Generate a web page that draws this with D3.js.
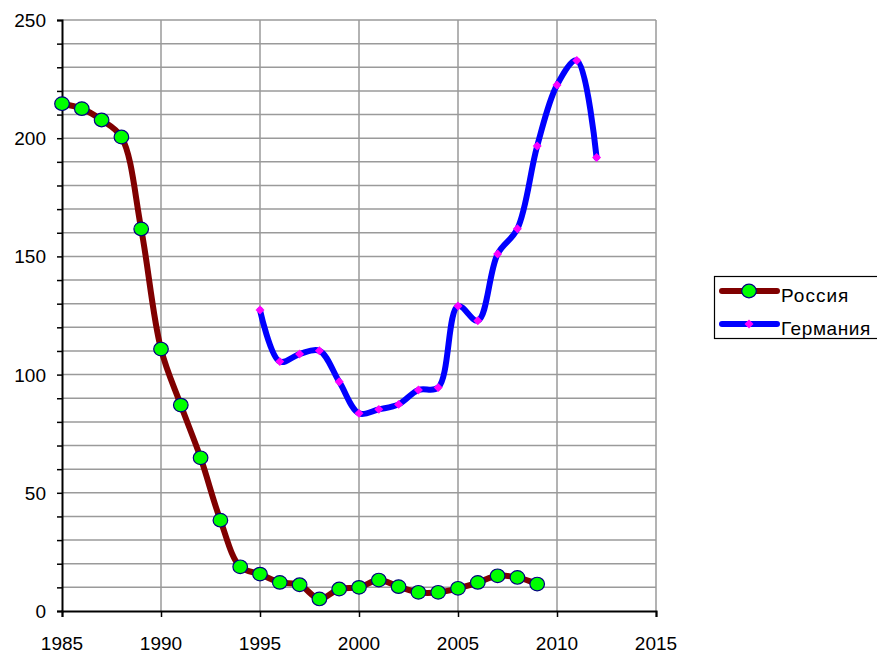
<!DOCTYPE html>
<html><head><meta charset="utf-8">
<script src="https://cdn.jsdelivr.net/npm/d3@7"></script>
<style>body{margin:0;background:#fff}svg{display:block}text{font-family:"Liberation Sans",Arial,sans-serif}</style>
</head><body>
<svg id="c" width="877" height="653"></svg>
<script>
const russiaYears = [1985,1986,1987,1988,1989,1990,1991,1992,1993,1994,1995,1996,1997,1998,1999,2000,2001,2002,2003,2004,2005,2006,2007,2008,2009];
const russiaValues = [214.6,212.5,207.7,200.5,161.6,110.8,87.1,64.8,38.4,18.7,15.6,12.1,11.1,5.1,9.3,10.0,13.1,10.3,7.9,7.9,9.6,12.1,14.9,14.2,11.4];
const germanyYears = [1995,1996,1997,1998,1999,2000,2001,2002,2003,2004,2005,2006,2007,2008,2009,2010,2011,2012];
const germanyValues = [127.3,105.5,108.7,110.1,97.0,83.6,85.3,87.4,93.5,94.5,129.0,122.8,151.0,161.7,196.7,222.5,232.9,191.8];
const xTicks = [1985,1990,1995,2000,2005,2010,2015];
const yTicks = [0,50,100,150,200,250];
const yMinor = d3.range(0,251,10);
const seriesNames = ["Россия","Германия"];

const svg = d3.select("#c");
const x = d3.scaleLinear().domain([1985,2015]).range([62,656]);
const y = d3.scaleLinear().domain([0,250]).range([611,20]);

// grid
const g = svg.append("g");
g.selectAll("line.h").data(yMinor.filter(v=>v>0)).enter().append("line")
  .attr("x1",x(1985)).attr("x2",x(2015)).attr("y1",d=>y(d)).attr("y2",d=>y(d))
  .attr("stroke","#9a9a9a").attr("stroke-width",1.5);
g.selectAll("line.v").data(xTicks.filter(v=>v>1985)).enter().append("line")
  .attr("x1",d=>x(d)).attr("x2",d=>x(d)).attr("y1",y(0)).attr("y2",y(250))
  .attr("stroke","#9a9a9a").attr("stroke-width",1.5);

// axes
const yAxis = d3.axisLeft(y).tickValues(yMinor).tickSize(5).tickFormat("");
const ya = svg.append("g").attr("transform",`translate(${x(1985)},0)`).call(yAxis);
ya.select(".domain").attr("stroke","#000").attr("stroke-width",2);
ya.selectAll(".tick line").attr("stroke","#000").attr("stroke-width",1.5);
svg.append("g").selectAll("text").data(yTicks).enter().append("text")
  .attr("x",46).attr("y",d=>y(d)+7).attr("text-anchor","end")
  .attr("font-size",19).text(d=>d);

const xAxis = d3.axisBottom(x).tickValues(xTicks).tickSize(6).tickFormat("");
const xa = svg.append("g").attr("transform",`translate(0,${y(0)})`).call(xAxis);
xa.select(".domain").attr("stroke","#000").attr("stroke-width",2);
xa.selectAll(".tick line").attr("stroke","#000").attr("stroke-width",1.5);
svg.append("g").selectAll("text").data(xTicks).enter().append("text")
  .attr("x",d=>x(d)).attr("y",649.5).attr("text-anchor","middle")
  .attr("font-size",19).text(d=>d);

const line = d3.line().x(d=>x(d[0])).y(d=>y(d[1])).curve(d3.curveCatmullRom.alpha(0.5));
const rus = russiaYears.map((d,i)=>[d,russiaValues[i]]);
const ger = germanyYears.map((d,i)=>[d,germanyValues[i]]);
const diamond = d3.symbol(d3.symbolSquare,40);

svg.append("path").datum(ger).attr("d",line).attr("fill","none")
  .attr("stroke","#0000ff").attr("stroke-width",6).attr("stroke-linejoin","round").attr("stroke-linecap","round");
svg.append("g").selectAll("path").data(ger).enter().append("path")
  .attr("d",diamond)
  .attr("transform",d=>`translate(${x(d[0])},${y(d[1])}) rotate(45)`).attr("fill","#ff00ff");

svg.append("path").datum(rus).attr("d",line).attr("fill","none")
  .attr("stroke","#800000").attr("stroke-width",6).attr("stroke-linejoin","round").attr("stroke-linecap","round");
svg.append("g").selectAll("ellipse").data(rus).enter().append("ellipse")
  .attr("cx",d=>x(d[0])).attr("cy",d=>y(d[1])).attr("rx",7.3).attr("ry",6.8)
  .attr("fill","#00ff00").attr("stroke","#000080").attr("stroke-width",1.2);

// legend
const lg = svg.append("g");
lg.append("rect").attr("x",714.5).attr("y",276.5).attr("width",170).attr("height",62)
  .attr("fill","#fff").attr("stroke","#000").attr("stroke-width",1.2);
lg.append("line").attr("x1",722).attr("x2",777).attr("y1",291).attr("y2",291)
  .attr("stroke","#800000").attr("stroke-width",6).attr("stroke-linecap","round");
lg.append("ellipse").attr("cx",749).attr("cy",291).attr("rx",7.3).attr("ry",6.8)
  .attr("fill","#00ff00").attr("stroke","#000080").attr("stroke-width",1.2);
lg.append("line").attr("x1",722).attr("x2",777).attr("y1",324).attr("y2",324)
  .attr("stroke","#0000ff").attr("stroke-width",6).attr("stroke-linecap","round");
lg.append("path").attr("d",diamond).attr("transform","translate(749,324) rotate(45)").attr("fill","#ff00ff");
lg.append("text").attr("x",781).attr("y",302).attr("font-size",19).attr("letter-spacing",1).text(seriesNames[0]);
lg.append("text").attr("x",781).attr("y",335).attr("font-size",19).attr("letter-spacing",0.6).text(seriesNames[1]);
</script>
</body></html>
